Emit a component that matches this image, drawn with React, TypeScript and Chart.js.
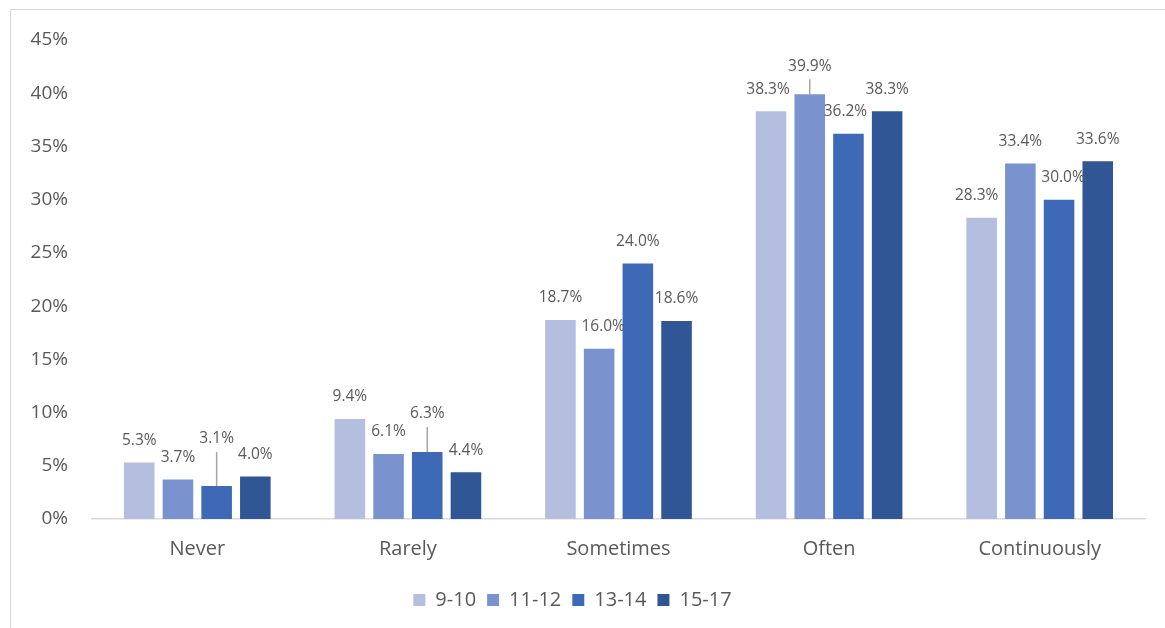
import React, { useEffect, useRef } from "react";
import { Chart, registerables } from "chart.js";

Chart.register(...registerables);

const categories = ["Never", "Rarely", "Sometimes", "Often", "Continuously"];
const ageGroups = ["9-10", "11-12", "13-14", "15-17"];
const age9to10 = [5.3, 9.4, 18.7, 38.3, 28.3];
const age11to12 = [3.7, 6.1, 16.0, 39.9, 33.4];
const age13to14 = [3.1, 6.3, 24.0, 36.2, 30.0];
const age15to17 = [4.0, 4.4, 18.6, 38.3, 33.6];
const seriesValues = [age9to10, age11to12, age13to14, age15to17];
const seriesColors = ["#b4bfdf", "#7a93cf", "#3e69b6", "#315696"];

// Small per-label nudges [dx, dy] in pixels so crowded labels stay readable
const labelNudges = [
  [[0, 0], [0, 0], [0, 0], [-3, 0], [-5, 0]],
  [[0, 0], [0, 0], [4, 0], [0, -6], [0, 0]],
  [[0, -25], [0, -16], [0, 0], [-3, 0], [4, 0]],
  [[0, 0], [0, 0], [0, 0], [0, 0], [0, 0]],
];

const FONT = "'Open Sans', Lato, sans-serif";
const TEXT = "#595959";

const valueLabels = {
  id: "valueLabels",
  afterDatasetsDraw(chart: any) {
    const ctx = chart.ctx;
    ctx.save();
    ctx.font = `15.5px ${FONT}`;
    ctx.fillStyle = TEXT;
    ctx.textAlign = "center";
    ctx.textBaseline = "middle";
    chart.data.datasets.forEach((ds: any, di: number) => {
      const meta = chart.getDatasetMeta(di);
      meta.data.forEach((bar: any, i: number) => {
        const [dx, dy] = labelNudges[di][i];
        const ly = bar.y - 22 + dy;
        if (dy < -4) {
          ctx.strokeStyle = "#a6a6a6";
          ctx.lineWidth = 1.5;
          ctx.beginPath();
          ctx.moveTo(bar.x, ly + 13);
          ctx.lineTo(bar.x, bar.y);
          ctx.stroke();
        }
        ctx.fillText(`${ds.data[i].toFixed(1)}%`, bar.x + dx, ly);
      });
    });
    ctx.restore();
  },
};

export default function App() {
  const canvasRef = useRef<HTMLCanvasElement | null>(null);

  useEffect(() => {
    if (!canvasRef.current) return;
    const chart = new Chart(canvasRef.current, {
      type: "bar",
      data: {
        labels: categories,
        datasets: ageGroups.map((g, k) => ({
          label: g,
          data: seriesValues[k],
          backgroundColor: seriesColors[k],
          borderWidth: 0,
          categoryPercentage: 0.735,
          barPercentage: 0.79,
        })),
      },
      options: {
        animation: false,
        responsive: false,
        devicePixelRatio: 1,
        layout: { padding: { top: 40, right: 20, bottom: 8, left: 0 } },
        plugins: {
          legend: {
            position: "bottom",
            labels: {
              boxWidth: 12,
              boxHeight: 12,
              padding: 11,
              color: TEXT,
              font: { family: FONT, size: 20 },
            },
          },
          tooltip: { enabled: false },
        },
        scales: {
          x: {
            grid: { display: false, drawTicks: false },
            border: { display: true, color: "#d9d9d9", width: 1.5 },
            ticks: { color: TEXT, padding: 18, font: { family: FONT, size: 20 } },
          },
          y: {
            min: 0,
            max: 45,
            grid: { display: false, drawTicks: false },
            border: { display: false },
            afterFit(scale: any) {
              scale.width = 92;
            },
            ticks: {
              stepSize: 5,
              padding: 24,
              color: TEXT,
              font: { family: FONT, size: 19 },
              callback: (v: any) => `${v}%`,
            },
          },
        },
      },
      plugins: [valueLabels],
    });
    return () => chart.destroy();
  }, []);

  return (
    <div style={{ position: "fixed", left: 0, top: 0, width: 1165, height: 628, background: "#fff", overflow: "hidden" }}>
      <div
        style={{
          position: "absolute",
          left: 10,
          top: 9,
          width: 1200,
          height: 700,
          borderLeft: "1.5px solid #d9d9d9",
          borderTop: "1.5px solid #d9d9d9",
        }}
      />
      <canvas ref={canvasRef} width={1165} height={628} style={{ position: "absolute", left: 0, top: 0 }} />
    </div>
  );
}
